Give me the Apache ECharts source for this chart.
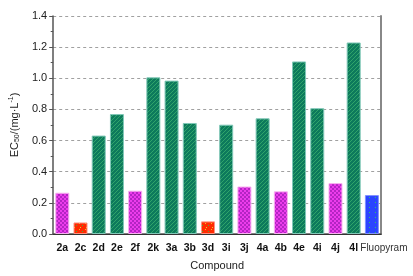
<!DOCTYPE html>
<html>
<head>
<meta charset="utf-8">
<script src="https://cdn.jsdelivr.net/npm/echarts@6/dist/echarts.min.js"></script>
<style>
html,body{margin:0;padding:0;background:#fff;}
#main{width:413px;height:276px;}
</style>
</head>
<body>
<div id="main"></div>
<script>
var compounds = ['2a','2c','2d','2e','2f','2k','3a','3b','3d','3i','3j','4a','4b','4e','4i','4j','4l','Fluopyram'];
var ec50 = [0.265,0.074,0.632,0.770,0.278,1.006,0.985,0.713,0.081,0.702,0.305,0.743,0.274,1.108,0.808,0.327,1.230,0.250];
// activity group of each compound
var groups = ['mid','high','low','low','mid','low','low','low','high','low','mid','low','mid','low','low','mid','low','ctrl'];

//图案填充
function makePattern(kind){
	var c = document.createElement('canvas');
	var ctx;
	if(kind=='low'){
		c.width=4;c.height=4;
		ctx=c.getContext('2d');
		ctx.fillStyle='#0d7a5c';
		ctx.fillRect(0,0,4,4);
		ctx.strokeStyle='#30a46a';
		ctx.lineWidth=1;
		ctx.beginPath();
		ctx.moveTo(0,4);ctx.lineTo(4,0);
		ctx.moveTo(-1,1);ctx.lineTo(1,-1);
		ctx.moveTo(3,5);ctx.lineTo(5,3);
		ctx.stroke();
	}else if(kind=='mid'){
		c.width=4;c.height=4;
		ctx=c.getContext('2d');
		ctx.fillStyle='#ec3cec';
		ctx.fillRect(0,0,4,4);
		ctx.fillStyle='#b424c4';
		ctx.fillRect(0,0,2,2);
		ctx.fillRect(2,2,2,2);
	}else if(kind=='high'){
		c.width=6;c.height=6;
		ctx=c.getContext('2d');
		ctx.fillStyle='#ff2a00';
		ctx.fillRect(0,0,6,6);
		ctx.fillStyle='#f0c020';
		ctx.fillRect(1,1,1,1);
		ctx.fillStyle='#40b040';
		ctx.fillRect(4,3,1,1);
		ctx.fillStyle='#e0d030';
		ctx.fillRect(2,5,1,1);
	}else{
		c.width=6;c.height=5;
		ctx=c.getContext('2d');
		ctx.fillStyle='#2a44ff';
		ctx.fillRect(0,0,6,5);
		ctx.fillStyle='#30c070';
		ctx.fillRect(3,2,1,1);
	}
	return {image:c,repeat:'repeat'};
}
var borders = {low:'#80c8b8',mid:'#f8b0f0',high:'#ff9080',ctrl:'#8090ff'};

var myChart = echarts.init(document.getElementById('main'));
var option = {
	animation:false,
	backgroundColor:'#fff',
	grid:{left:52,right:32,top:16,bottom:40},
	xAxis:[{
		type:'category',
		data:compounds,
		name:'Compound',
		nameLocation:'middle',
		nameGap:26,
		nameTextStyle:{fontFamily:'Liberation Sans',fontSize:11,color:'#222'},
		axisLine:{lineStyle:{color:'#555',width:1.5}},
		axisTick:{alignWithLabel:true,length:4,lineStyle:{color:'#555'}},
		axisLabel:{
			interval:0,margin:9,color:'#111',fontFamily:'Liberation Sans',fontSize:10.5,
			formatter:function(v){ return v=='Fluopyram' ? '{n|'+v+'}' : '{b|'+v+'}'; },
			rich:{
				b:{fontWeight:'bold',fontSize:10.5,fontFamily:'Liberation Sans',color:'#111'},
				n:{fontSize:10,fontFamily:'Liberation Sans',color:'#333',padding:[0,0,0,24]}
			}
		},
		splitLine:{show:false}
	},{
		type:'category',
		position:'top',
		data:compounds,
		axisLine:{lineStyle:{color:'#333',width:1}},
		axisTick:{show:false},
		axisLabel:{show:false}
	}],
	yAxis:[{
		type:'value',
		min:0,max:1.4,interval:0.2,
		name:'{t|EC}{s|50}{t|/(mg·L}{p|-1}{t|)}',
		nameLocation:'middle',
		nameGap:32,
		nameTextStyle:{
			rich:{
				t:{fontFamily:'Liberation Sans',fontSize:11,color:'#222'},
				s:{fontFamily:'Liberation Sans',fontSize:7,color:'#222',verticalAlign:'bottom',padding:[6,0,0,0]},
				p:{fontFamily:'Liberation Sans',fontSize:7,color:'#222',verticalAlign:'top',padding:[0,0,6,0]}
			}
		},
		axisLine:{show:true,lineStyle:{color:'#555',width:1.5}},
		axisTick:{show:true,length:4,lineStyle:{color:'#555'}},
		minorTick:{show:true,splitNumber:2,length:2.5,lineStyle:{color:'#555'}},
		axisLabel:{
			color:'#222',fontFamily:'Liberation Sans',fontSize:11,margin:6,
			formatter:function(v){ return v.toFixed(1); }
		},
		splitLine:{show:true,lineStyle:{color:'#888',type:[3,3],width:0.8}}
	},{
		type:'value',
		position:'right',
		min:0,max:1.4,interval:0.2,
		axisLine:{show:true,lineStyle:{color:'#888',width:2}},
		axisTick:{show:false},
		axisLabel:{show:false},
		splitLine:{show:false}
	}],
	series:[{
		type:'bar',
		barWidth:14,
		data:ec50.map(function(v,i){
			return {
				value:v,
				itemStyle:{color:makePattern(groups[i]),borderColor:borders[groups[i]],borderWidth:1}
			};
		})
	}]
};
myChart.setOption(option);
</script>
</body>
</html>
